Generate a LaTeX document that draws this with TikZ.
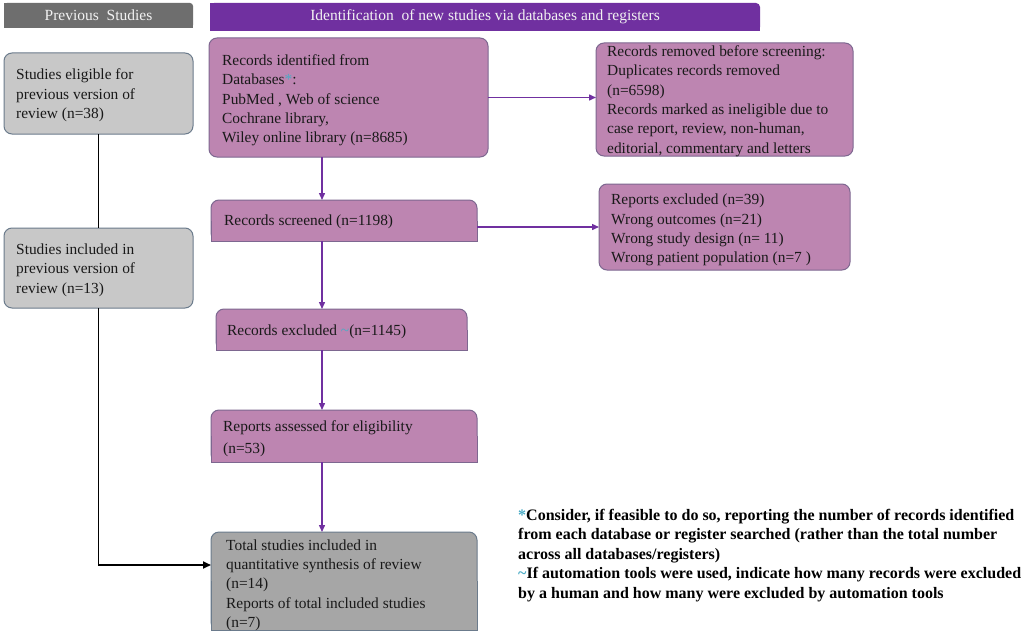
\documentclass[tikz,border=0pt]{standalone}
\usepackage{fontspec}
\setmainfont{Liberation Serif}
\usetikzlibrary{arrows.meta}
\definecolor{pfill}{HTML}{BD85B1}
\definecolor{pborder}{HTML}{7D6790}
\definecolor{gfill}{HTML}{C8C8C8}
\definecolor{gborder}{HTML}{6B7B8C}
\definecolor{dgfill}{HTML}{A6A6A6}
\definecolor{hgray}{HTML}{6E6E6E}
\definecolor{hpurple}{HTML}{7030A0}
\definecolor{arrowp}{HTML}{7030A0}
\definecolor{notec}{HTML}{4BACC6}
\begin{document}
\begin{tikzpicture}[x=1pt,y=-1pt,
  txt/.style={font=\fontsize{15.4}{19.3}\selectfont, align=left, inner sep=0pt, text=black!90, anchor=west},
  boxbase/.style={anchor=north west, inner sep=0pt, outer sep=0pt, line width=1pt},
  pbox/.style={boxbase, fill=pfill, draw=pborder, rounded corners=8pt},
  gbox/.style={boxbase, fill=gfill, draw=gborder, rounded corners=8pt},
  dgbox/.style={boxbase, fill=dgfill, draw=gborder, rounded corners=8pt},
  pflat/.style={fill=pfill, draw=pborder, line width=1pt},
  dgflat/.style={fill=dgfill, draw=gborder, line width=1pt},
  header/.style={anchor=north west, inner sep=0pt, outer sep=0pt},
  headtxt/.style={anchor=center, inner sep=0pt, text=white!95!black, font=\fontsize{15.5}{18}\selectfont},
  parrow/.style={draw=arrowp, line width=1.4pt, -{Triangle[length=7pt,width=6pt]}},
  blk/.style={draw=black, line width=1.8pt},
  notetxt/.style={font=\bfseries\fontsize{16}{19.5}\selectfont, align=left, inner sep=0pt, anchor=north west},
]
\useasboundingbox (0,0) rectangle (1024,634);
\fill[white] (0,0) rectangle (1024,634);

% headers
\node[header, minimum width=189pt, minimum height=25pt] (H1) at (4,3) {};
\fill[hgray, rounded corners=3pt] (H1.north west) rectangle (H1.south east);
\fill[hgray] (H1.north west) rectangle ([xshift=-8pt]H1.south east);
\fill[hgray] (H1.west) rectangle (H1.south east);
\node[headtxt] (H1t) at (H1.center) {Previous\ \ Studies};
\node[header, minimum width=550pt, minimum height=28pt] (H2) at (210,3) {};
\fill[hpurple, rounded corners=4pt] (H2.north west) rectangle (H2.south east);
\fill[hpurple] (H2.north west) rectangle ([xshift=-10pt]H2.south east);
\fill[hpurple] (H2.west) rectangle (H2.south east);
\node[headtxt] (H2t) at (H2.center) {Identification\ \ of new studies via databases and registers};

% previous studies boxes
\node[gbox, minimum width=189pt, minimum height=81pt] (P1) at (4,53) {};
\node[txt] (P1t) at ([xshift=12pt,yshift=-2pt]P1.west) {Studies eligible for\\previous version of\\review (n=38)};
\node[gbox, minimum width=189pt, minimum height=80pt] (P2) at (4,228) {};
\node[txt] (P2t) at ([xshift=12pt,yshift=-2pt]P2.west) {Studies included in\\previous version of\\review (n=13)};

% identification
\node[pbox, minimum width=279pt, minimum height=119pt] (A) at (209,38) {};
\node[txt] (At) at ([xshift=13pt,yshift=-3pt]A.west) {Records identified from\\Databases{\color{notec}*}:\\PubMed , Web of science\\Cochrane library,\\Wiley online library (n=8685)};

\node[pbox, minimum width=257pt, minimum height=113pt] (B) at (596,43) {};
\node[txt] (Bt) at ([xshift=11pt,yshift=-1.5pt]B.west) {Records removed before screening:\\Duplicates records removed\\(n=6598)\\Records marked as ineligible due to\\case report, review, non-human,\\editorial, commentary and letters};

\node[pbox, minimum width=266pt, minimum height=41pt] (C) at (211,200) {};
\filldraw[pflat] (C.west) -- (C.south west) -- (C.south east) -- (C.east);
\node[txt] (Ct) at ([xshift=13pt,yshift=-1pt]C.west) {Records screened (n=1198)};

\node[pbox, minimum width=251pt, minimum height=86pt] (D) at (599,184) {};
\node[txt] (Dt) at ([xshift=12pt,yshift=-3pt]D.west) {Reports excluded (n=39)\\Wrong outcomes (n=21)\\Wrong study design (n= 11)\\Wrong patient population (n=7 )};

\node[pbox, minimum width=251pt, minimum height=41pt] (E) at (216,309) {};
\filldraw[pflat] (E.west) -- (E.south west) -- (E.south east) -- (E.east);
\node[txt] (Et) at ([xshift=11pt,yshift=-2pt]E.west) {Records excluded {\color{notec}\textasciitilde}(n=1145)};

\node[pbox, minimum width=266pt, minimum height=52pt] (F) at (211,410) {};
\filldraw[pflat] (F.west) -- (F.south west) -- (F.south east) -- (F.east);
\node[txt, font=\fontsize{15.4}{21.7}\selectfont] (Ft) at ([xshift=12pt,yshift=-3pt]F.west) {Reports assessed for eligibility\\(n=53)};

\node[dgbox, minimum width=266pt, minimum height=98pt] (G) at (211,532) {};
\filldraw[dgflat] (G.west) -- (G.south west) -- (G.south east) -- (G.east);
\node[txt] (Gt) at ([xshift=15pt,yshift=-4pt]G.west) {Total studies included in\\quantitative synthesis of review\\(n=14)\\Reports of total included studies\\(n=7)};

% footnote
\node[notetxt] (N) at (518,509) {{\color{notec}*}Consider, if feasible to do so, reporting the number of records identified\\from each database or register searched (rather than the total number\\across all databases/registers)\\{\color{notec}\textasciitilde}If automation tools were used, indicate how many records were excluded\\by a human and how many were excluded by automation tools};

% connectors
\coordinate (vx) at (322,0);
\coordinate (hy) at (0,97.5);
\coordinate (bend) at (98.5,565);
\draw[parrow] (vx |- A.south) -- (vx |- C.north);
\draw[parrow] (vx |- C.south) -- (vx |- E.north);
\draw[parrow] (vx |- E.south) -- (vx |- F.north);
\draw[parrow] (vx |- F.south) -- (vx |- G.north);
\draw[parrow] (A.east |- hy) -- (B.west |- hy);
\draw[parrow] (C.east |- D.west) -- (D.west);
\draw[blk] (P1.south) -- (P2.north);
\draw[blk, -{Triangle[length=8pt,width=7pt]}] (P2.south) -- (P2.south |- bend) -- (bend -| G.west);
\end{tikzpicture}
\end{document}
